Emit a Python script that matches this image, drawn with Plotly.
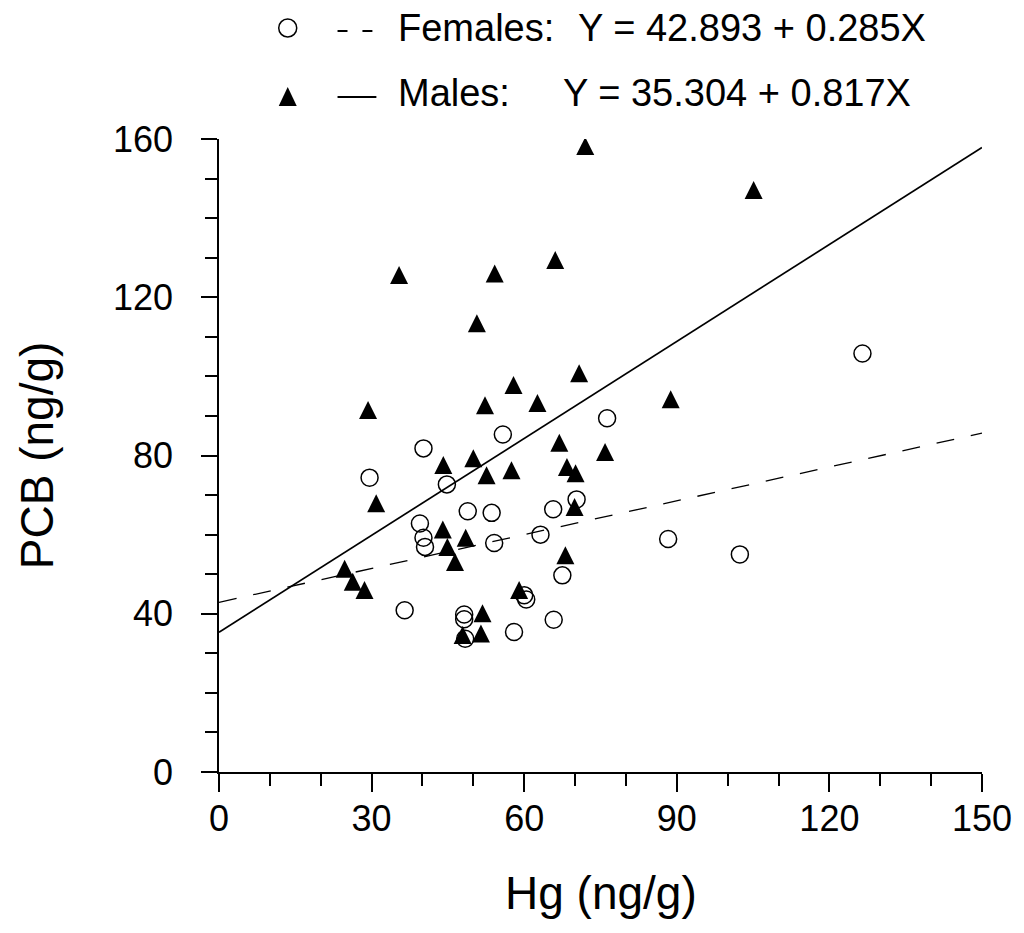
import plotly.graph_objects as go

# ---------------- data ----------------
female_hg = [76.3, 55.8, 40.2, 29.6, 44.8, 70.3, 48.9, 53.6, 65.7, 39.5, 40.2, 40.5, 63.2,
             54.1, 67.5, 60.0, 60.4, 36.5, 48.2, 48.2, 65.8, 58.0, 48.4, 126.5, 88.3, 102.4]
female_pcb = [89.4, 85.3, 81.8, 74.4, 72.7, 68.9, 65.9, 65.5, 66.4, 62.8, 59.2, 56.9, 60.0,
              57.9, 49.7, 44.7, 43.6, 40.9, 39.8, 38.6, 38.5, 35.4, 33.7, 105.8, 58.9, 55.0]

male_hg = [72.0, 105.1, 66.1, 35.4, 54.2, 50.7, 70.8, 57.9, 88.8, 52.3, 62.6, 29.3, 66.9,
           75.9, 50.0, 44.1, 68.4, 57.5, 70.1, 52.6, 30.9, 69.9, 44.0, 48.5, 44.9, 68.1,
           46.4, 24.7, 26.3, 28.6, 59.0, 51.8, 51.5, 47.9]
male_pcb = [158.2, 147.1, 129.4, 125.6, 126.0, 113.4, 100.8, 97.8, 94.2, 92.7, 93.3, 91.5, 83.2,
            80.9, 79.3, 77.6, 77.1, 76.3, 75.5, 75.0, 67.9, 67.0, 61.3, 59.2, 56.9, 54.8,
            53.1, 51.4, 48.1, 46.0, 46.0, 40.1, 35.0, 34.6]

# regression lines: intercept, slope
female_fit = (42.893, 0.285)
male_fit = (35.304, 0.817)
fit_x = [0, 150]

x_ticks = [0, 30, 60, 90, 120, 150]
y_ticks = [0, 40, 80, 120, 160]

# ---------------- layout geometry ----------------
OFF = 8  # page body margin of the html page
W, H = 1024 - OFF, 933 - OFF
ML, MT = 219 - OFF, 139 - OFF
PW, PH = 766, 633
MR, MB = W - ML - PW, H - MT - PH
XR = [0, 150]
YR = [0, 160]
FONT = "Liberation Sans, Arial, sans-serif"

TRI = 18  # triangle marker size (px)
# arrow-up symbol has its apex at the point; a companion axis shifted by half
# the marker height centres the triangle on the value
shift = (TRI / 2) / (PH / (YR[1] - YR[0]))


def px2paper_x(px):
    return (px - OFF - ML) / PW


def px2paper_y(py):
    return (MT + PH - (py - OFF)) / PH


fig = go.Figure()

fig.add_trace(go.Scatter(
    x=fit_x, y=[female_fit[0] + female_fit[1] * v for v in fit_x],
    mode="lines", line=dict(color="black", width=1.3, dash="18px,17px"),
    showlegend=False, hoverinfo="skip"))
fig.add_trace(go.Scatter(
    x=fit_x, y=[male_fit[0] + male_fit[1] * v for v in fit_x],
    mode="lines", line=dict(color="black", width=1.7),
    showlegend=False, hoverinfo="skip"))

fig.add_trace(go.Scatter(
    x=female_hg, y=female_pcb, mode="markers", name="Females",
    marker=dict(symbol="circle-open", size=17, color="black", line=dict(width=1.5)),
    showlegend=False))
fig.add_trace(go.Scatter(
    x=male_hg, y=male_pcb, mode="markers", name="Males", yaxis="y2",
    marker=dict(symbol="arrow-up", size=TRI, color="black", line=dict(width=0)),
    showlegend=False))

axis_common = dict(
    showgrid=False, zeroline=False, showline=True, linecolor="black", linewidth=1.5,
    ticks="outside", tickcolor="black", tickwidth=1.5,
    tickfont=dict(family=FONT, size=36, color="black"),
)

fig.update_layout(
    width=W, height=H,
    margin=dict(l=ML, r=MR, t=MT, b=MB, pad=0),
    paper_bgcolor="white", plot_bgcolor="white",
    showlegend=False,
    xaxis=dict(range=XR, tickvals=x_ticks, ticklen=18,
               minor=dict(dtick=10, ticklen=12, tickwidth=1.5, tickcolor="black", ticks="outside"),
               ticklabelstandoff=-4, **axis_common),
    yaxis=dict(range=YR, tickvals=y_ticks, ticklen=16,
               minor=dict(dtick=10, ticklen=12, tickwidth=1.5, tickcolor="black", ticks="outside"),
               ticklabelstandoff=21, **axis_common),
    yaxis2=dict(range=[YR[0] - shift, YR[1] - shift], overlaying="y", visible=False,
                showgrid=False, zeroline=False),
)

ann_font = dict(family=FONT, size=38, color="black")
title_font = dict(family=FONT, size=46, color="black")

annotations = [
    dict(text="Hg (ng/g)", x=px2paper_x(602), y=px2paper_y(893), xref="paper", yref="paper",
         xanchor="center", yanchor="middle", showarrow=False, font=title_font),
    dict(text="PCB (ng/g)", x=px2paper_x(36), y=0.5, xref="paper", yref="paper",
         xanchor="center", yanchor="middle", textangle=-90, showarrow=False, font=title_font),
    dict(text="Females:", x=px2paper_x(397), y=px2paper_y(28), xref="paper", yref="paper",
         xanchor="left", yanchor="middle", showarrow=False, font=ann_font),
    dict(text="Y = 42.893 + 0.285X", x=px2paper_x(577), y=px2paper_y(28), xref="paper", yref="paper",
         xanchor="left", yanchor="middle", showarrow=False, font=ann_font),
    dict(text="Males:", x=px2paper_x(397), y=px2paper_y(93), xref="paper", yref="paper",
         xanchor="left", yanchor="middle", showarrow=False, font=ann_font),
    dict(text="Y = 35.304 + 0.817X", x=px2paper_x(562), y=px2paper_y(93), xref="paper", yref="paper",
         xanchor="left", yanchor="middle", showarrow=False, font=ann_font),
]
fig.update_layout(annotations=annotations)

# legend symbols and line samples (pixel-sized shapes anchored in paper space)
shapes = [
    dict(type="circle", xref="paper", yref="paper", xsizemode="pixel", ysizemode="pixel",
         xanchor=px2paper_x(288), yanchor=px2paper_y(28), x0=-9, x1=9, y0=-9, y1=9,
         line=dict(color="black", width=1.5)),
    dict(type="path", xref="paper", yref="paper", xsizemode="pixel", ysizemode="pixel",
         xanchor=px2paper_x(288), yanchor=px2paper_y(97),
         path="M 0 10 L -9 -9 L 9 -9 Z", fillcolor="black", line=dict(width=0)),
    dict(type="line", xref="paper", yref="paper",
         x0=px2paper_x(338), x1=px2paper_x(348), y0=px2paper_y(31), y1=px2paper_y(31),
         line=dict(color="black", width=2)),
    dict(type="line", xref="paper", yref="paper",
         x0=px2paper_x(363), x1=px2paper_x(373), y0=px2paper_y(31), y1=px2paper_y(31),
         line=dict(color="black", width=2)),
    dict(type="line", xref="paper", yref="paper",
         x0=px2paper_x(338), x1=px2paper_x(377), y0=px2paper_y(97), y1=px2paper_y(97),
         line=dict(color="black", width=2.2)),
]
fig.update_layout(shapes=shapes)

fig.write_html("out.html")
